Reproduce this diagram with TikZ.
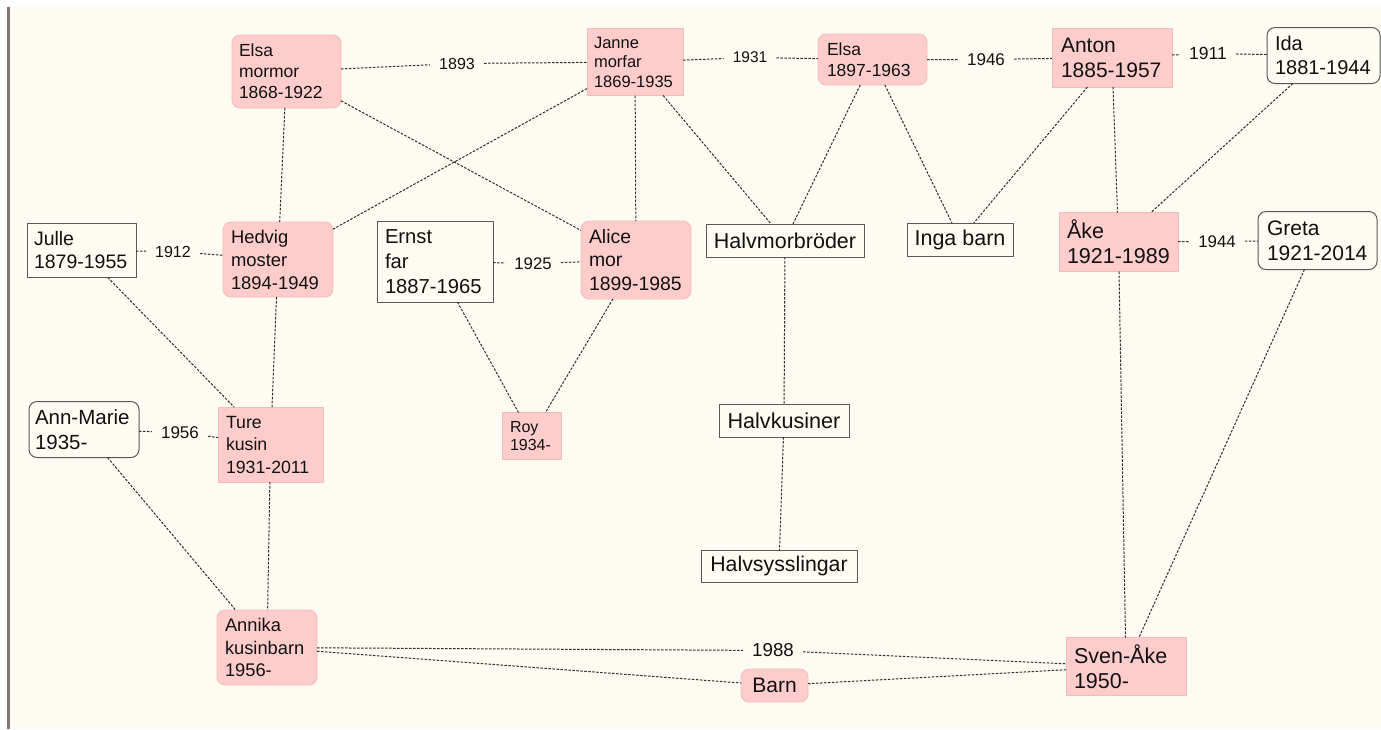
\documentclass[tikz,border=0pt]{standalone}
\usepackage{fontspec}
\setmainfont{Liberation Sans}
\exhyphenpenalty=10000
\hyphenpenalty=10000
\definecolor{bg}{HTML}{FDFBF2}
\definecolor{pinkfill}{HTML}{FFCCCC}
\definecolor{pinkedge}{HTML}{F3BCBC}
\definecolor{edgegray}{HTML}{5A5A5A}
\definecolor{linecol}{HTML}{2E2E2E}
\definecolor{txt}{HTML}{111111}
\definecolor{strip}{HTML}{807472}
\tikzset{
  base/.style={text=txt, inner ysep=0pt, align=left, outer sep=0pt},
  pinkbox/.style={base, fill=pinkfill, draw=pinkedge, line width=0.8pt},
  pinkround/.style={pinkbox, rounded corners=8pt},
  whitebox/.style={base, fill=bg, draw=edgegray, line width=1pt},
  whiteround/.style={whitebox, rounded corners=8pt},
  fs/.style 2 args={font=\fontsize{#1}{#2}\selectfont},
  lbl/.style={text=txt, inner xsep=9pt, inner ysep=3pt, font=\fontsize{#1}{#1}\selectfont},
  conn/.style={draw=linecol, line width=1pt, dash pattern=on 2.5pt off 1.5pt},
}
\begin{document}
\begin{tikzpicture}[x=1pt,y=-1pt]
\useasboundingbox (0,0) rectangle (1381,729);
\fill[white] (0,0) rectangle (1381,729);
\fill[bg] (9.5,7) rectangle (1381,729);
\fill[strip] (7,7) rectangle (9.5,729);

% persons
\node[pinkround, fs={17.5}{21}, inner xsep=7pt, text width=95pt, minimum height=73pt] (em) at (286.5,71.5) {Elsa\\mormor\\1868-1922};
\node[pinkbox, fs={16.5}{19.5}, inner xsep=7pt, text width=82pt, minimum height=67pt] (jm) at (635,62) {Janne\\morfar\\1869-1935};
\node[pinkround, fs={17.5}{21}, inner xsep=9pt, text width=91pt, minimum height=51pt] (e2) at (872.5,59.5) {Elsa\\1897-1963};
\node[pinkbox, fs={21}{25}, inner xsep=9pt, text width=102pt, minimum height=59pt] (an) at (1112,57.5) {Anton\\1885-1957};
\node[whiteround, fs={20}{24}, inner xsep=8pt, text width=97pt, minimum height=56pt] (ida) at (1323.5,55.5) {Ida\\1881-1944};
\node[whitebox, fs={19.5}{23}, inner xsep=7pt, text width=95pt, minimum height=54pt] (ju) at (81.5,250.5) {Julle\\1879-1955};
\node[pinkround, fs={18.4}{23}, inner xsep=8pt, text width=94pt, minimum height=75pt] (hm) at (278,259.5) {Hedvig\\moster\\1894-1949};
\node[whitebox, fs={20.2}{25}, inner xsep=8pt, text width=100pt, minimum height=81pt] (er) at (435,261.5) {Ernst\\far\\1887-1965};
\node[pinkround, fs={19.4}{23.5}, inner xsep=8pt, text width=94pt, minimum height=78pt] (al) at (636,260) {Alice\\mor\\1899-1985};
\node[whitebox, fs={21.5}{25}, inner xsep=0pt, minimum width=158pt, minimum height=33pt, align=center] (hb) at (785,240.5) {Halvmorbröder};
\node[whitebox, fs={21.5}{25}, inner xsep=0pt, minimum width=106pt, minimum height=33pt, align=center] (ib) at (960,239.5) {Inga barn};
\node[pinkbox, fs={21.5}{25}, inner xsep=8pt, text width=103pt, minimum height=59pt] (ak) at (1118.5,242) {Åke\\1921-1989};
\node[whiteround, fs={21}{25}, inner xsep=9pt, text width=101pt, minimum height=58pt] (gr) at (1317.5,240.5) {Greta\\1921-2014};
\node[whiteround, fs={20.5}{25}, inner xsep=6pt, text width=98pt, minimum height=56pt] (am) at (84,429.5) {Ann-Marie\\1935-};
\node[pinkbox, fs={17.7}{22.5}, inner xsep=8pt, text width=89pt, minimum height=75pt] (tu) at (270.5,444.5) {Ture\\kusin\\1931-2011};
\node[pinkbox, fs={16}{18}, inner xsep=8pt, text width=43pt, minimum height=47pt] (ro) at (531.5,436) {Roy\\1934-};
\node[whitebox, fs={21.6}{25}, inner xsep=0pt, minimum width=130pt, minimum height=33pt, align=center] (hk) at (784,420.5) {Halvkusiner};
\node[whitebox, fs={21.3}{25}, inner xsep=0pt, minimum width=156pt, minimum height=32pt, align=center] (hs) at (779,566) {Halvsysslingar};
\node[pinkround, fs={18.3}{22.5}, inner xsep=8pt, text width=84pt, minimum height=75pt] (ank) at (267,647.5) {Annika\\kusinbarn\\1956-};
\node[pinkround, fs={21}{25}, inner xsep=0pt, minimum width=67pt, minimum height=33pt, align=center] (ba) at (774.5,685.5) {Barn};
\node[pinkbox, fs={21.5}{25}, inner xsep=8pt, text width=104pt, minimum height=58pt] (sa) at (1126,666.5) {Sven-Åke\\1950-};

% marriage labels
\node[lbl=16] (l1893) at (457,63.5) {1893};
\node[lbl=15.5] (l1931) at (750,57.5) {1931};
\node[lbl=17] (l1946) at (986,59.5) {1946};
\node[lbl=17.5] (l1911) at (1208,53.5) {1911};
\node[lbl=16] (l1912) at (173,251.5) {1912};
\node[lbl=16.8] (l1925) at (533,263.5) {1925};
\node[lbl=16.8] (l1944) at (1217,241.5) {1944};
\node[lbl=17] (l1956) at (180,432.5) {1956};
\node[lbl=18.7] (l1988) at (773,650.5) {1988};

% marriages
\draw[conn] (em) -- (l1893) -- (jm);
\draw[conn] (jm) -- (l1931) -- (e2);
\draw[conn] (e2) -- (l1946) -- (an);
\draw[conn] (an) -- (l1911) -- (ida);
\draw[conn] (ju) -- (l1912) -- (hm);
\draw[conn] (er) -- (l1925) -- (al);
\draw[conn] (ak) -- (l1944) -- (gr);
\draw[conn] (am) -- (l1956) -- (tu);
\draw[conn] (ank) -- (l1988) -- (sa);

% descent
\draw[conn] (em) -- (hm);
\draw[conn] (em) -- (al);
\draw[conn] (jm) -- (hm);
\draw[conn] (jm) -- (al);
\draw[conn] (jm) -- (hb);
\draw[conn] (e2) -- (hb);
\draw[conn] (e2) -- (ib);
\draw[conn] (an) -- (ib);
\draw[conn] (an) -- (ak);
\draw[conn] (ida) -- (ak);
\draw[conn] (ak) -- (sa);
\draw[conn] (gr) -- (sa);
\draw[conn] (ju) -- (tu);
\draw[conn] (hm) -- (tu);
\draw[conn] (er) -- (ro);
\draw[conn] (al) -- (ro);
\draw[conn] (tu) -- (ank);
\draw[conn] (am) -- (ank);
\draw[conn] (hb) -- (hk);
\draw[conn] (hk) -- (hs);
\draw[conn] (ank) -- (ba);
\draw[conn] (ba) -- (sa);
\end{tikzpicture}
\end{document}
